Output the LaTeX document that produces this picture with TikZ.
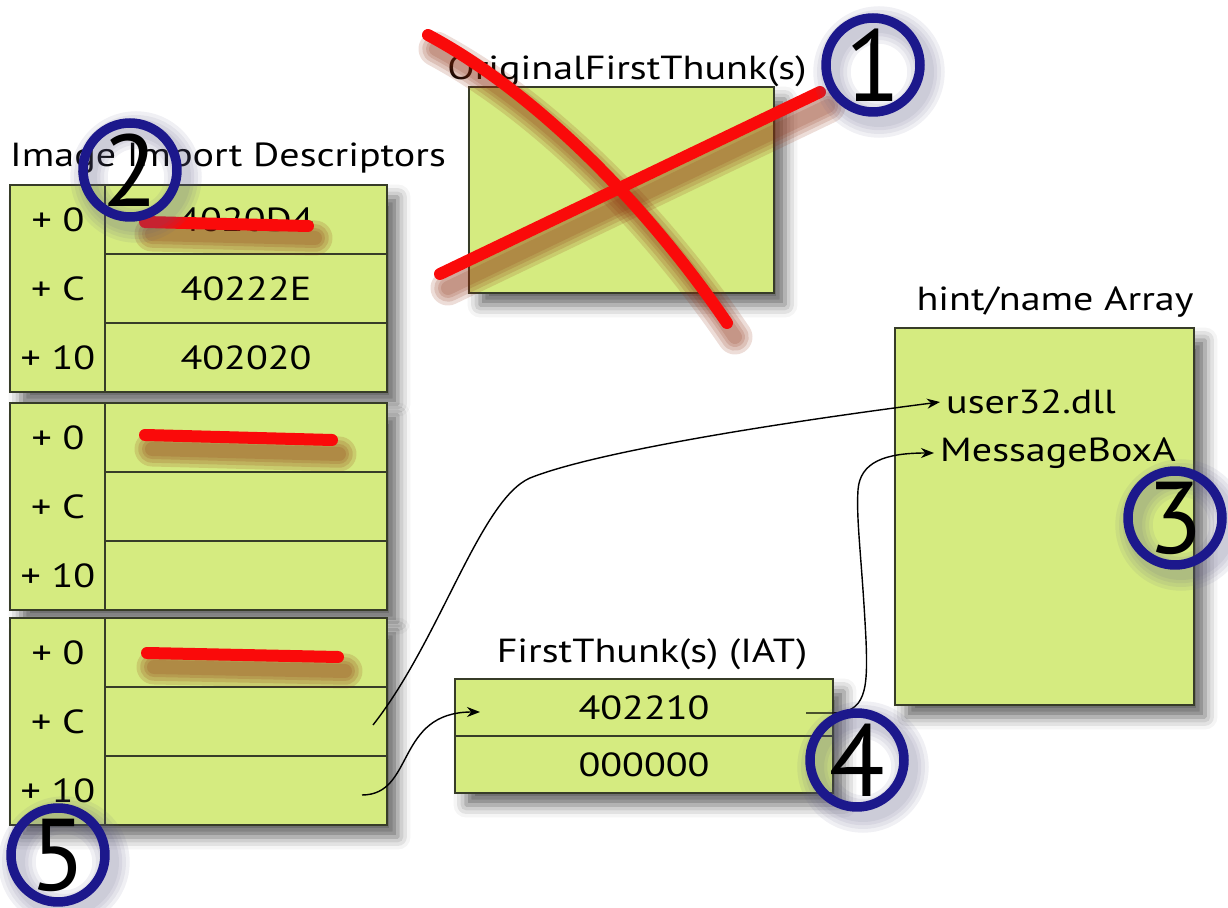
\documentclass[tikz,border=0pt]{standalone}
\usepackage{fontspec}
\setmainfont{PT Sans}[FakeStretch=1.2]
\newfontfamily\numfont{PT Sans}
\usetikzlibrary{arrows.meta,shadows.blur,calc}
\definecolor{cellgrn}{RGB}{213,235,128}
\definecolor{cellline}{RGB}{55,60,40}
\definecolor{marknavy}{RGB}{28,24,140}
\definecolor{strikered}{RGB}{250,10,10}
\definecolor{strikeshd}{RGB}{140,45,15}

\begin{document}
\begin{tikzpicture}[x=0.02cm,y=-0.02cm,
    frame/.style={draw=cellline,line width=1.1pt,fill=cellgrn,inner sep=0pt,
                  blur shadow={shadow xshift=0.22cm,shadow yshift=-0.24cm,
                               shadow blur radius=0.25cm,shadow opacity=60}},
    offcol/.style={draw=cellline,line width=1.1pt,inner sep=0pt,
                   minimum width=1.9cm,minimum height=4.14cm},
    valcell/.style={draw=cellline,line width=1.1pt,inner sep=0pt,
                    minimum width=5.64cm,minimum height=1.38cm,font=\fontsize{19}{23}\selectfont},
    iatcell/.style={valcell,minimum width=7.56cm,minimum height=1.14cm},
    lbl/.style={font=\fontsize{19}{23}\selectfont},
    ttl/.style={font=\fontsize{19}{23}\selectfont,anchor=base},
    badge/.style={circle,draw=marknavy,line width=0.19cm,minimum size=1.88cm,
                  inner sep=0pt,font=\numfont\fontsize{58}{58}\selectfont},
    glow/.style={marknavy!35!gray,opacity=0.09},
    strike/.style={strikered,line width=0.24cm,line cap=round},
    strikeshadow/.style={strikeshd,line cap=round,opacity=0.16},
    link/.style={-{Stealth[length=0.26cm,width=0.2cm]},line width=0.8pt}
  ]
  \useasboundingbox (0,0) rectangle (1228,908);

  %% ── Image import descriptors ─────────────────────────────────────────────
  \node[ttl,anchor=base west] (idtttl) at (4,167) {Image Import Descriptors};
  \foreach \t/\top/\va/\vb/\vc in {1/185/4020D4/40222E/402020,2/403///,3/618///} {
    \node[frame,minimum width=7.54cm,minimum height=4.14cm] (idt\t) at (198.5,\top+103.5) {};
    \node[offcol] (idt\t-off) at (57.5,\top+103.5) {};
    \foreach \r/\o/\v in {1/+ 0/\va,2/+ C/\vb,3/+ 10/\vc} {
      \node[valcell] (idt\t-v\r) at (246,{\top+34.5+69*(\r-1)}) {\v};
      \node[lbl] (idt\t-o\r) at (58,{\top+34.5+69*(\r-1)}) {\o};
    }
  }

  %% ── OriginalFirstThunk ───────────────────────────────────────────────────
  \node[ttl] (oftttl) at (627,80) {OriginalFirstThunk(s)};
  \node[frame,minimum width=6.1cm,minimum height=4.12cm] (oft) at (621.5,190) {};

  %% ── hint/name array ──────────────────────────────────────────────────────
  \node[ttl] (hintttl) at (1055,311) {hint/name Array};
  \node[frame,minimum width=5.98cm,minimum height=7.54cm] (hint) at (1044.5,516.5) {};
  \node[lbl,anchor=west] (user) at (940,402) {user32.dll};
  \node[lbl,anchor=west] (msgbox) at (934,453) {MessageBoxA};

  %% ── FirstThunk (IAT) ─────────────────────────────────────────────────────
  \node[ttl] (iatttl) at (652,663) {FirstThunk(s) (IAT)};
  \node[frame,minimum width=7.56cm,minimum height=2.28cm] (iat) at (644,736) {};
  \node[iatcell] (iat-1) at (644,707.5) {402210};
  \node[iatcell] (iat-2) at (644,764.5) {000000};

  %% ── Strike-outs (soft shadow first) ──────────────────────────────────────
  \foreach \w in {0.7,0.55,0.4,0.28} {
    \draw[strikeshadow,line width=\w cm] (152,234) -- (315,238);
    \draw[strikeshadow,line width=\w cm] (152,449) -- (339,454);
    \draw[strikeshadow,line width=\w cm] (154,667) -- (345,671);
    \draw[strikeshadow,line width=\w cm] (448,288) -- (828,106);
    \draw[strikeshadow,line width=\w cm] (436,49) .. controls (548,109) and (658,224) .. (735,337);
  }
  \draw[strike] (145,222) -- (308,226);
  \draw[strike] (145,435) -- (332,440);
  \draw[strike] (147,653) -- (338,657);
  \draw[strike] (440,274) -- (820,92);
  \draw[strike] (428,35) .. controls (540,95) and (650,210) .. (727,323);

  %% ── Pointers ─────────────────────────────────────────────────────────────
  \coordinate (d3c) at (373,725);
  \coordinate (d3e) at (362,795);
  \coordinate (iatin) at (480,712);
  \coordinate (iatout) at (806,713);
  \draw[link] (d3c) .. controls (440,640) and (480,500) .. (530,478)
      .. controls (600,450) and (800,420) .. (user.west);
  \draw[link] (d3e) .. controls (415,795) and (395,712) .. (iatin);
  \draw[link] (iatout) -- (832,713) .. controls (866,713) and (868,690) .. (866,640)
      .. controls (862,560) and (856,520) .. (858,490)
      .. controls (860,462) and (885,453) .. (msgbox.west);

  %% ── Step numbers ─────────────────────────────────────────────────────────
  \foreach \n/\px/\py in {1/873/65,2/130/170,3/1175/518,4/857/760,5/58/855} {
    \foreach \w in {0.75,0.6,0.45,0.32}
      \draw[glow,line width=\w cm] (\px+6,\py+7) circle (0.94cm);
    \node[badge] (n\n) at (\px,\py) {\n};
  }
\end{tikzpicture}
\end{document}
